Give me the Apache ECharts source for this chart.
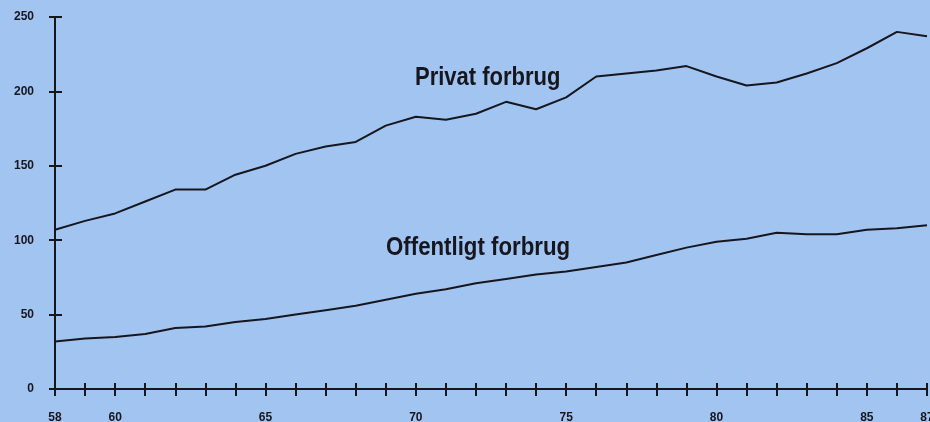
<!DOCTYPE html>
<html>
<head>
<meta charset="utf-8">
<script src="https://cdn.jsdelivr.net/npm/echarts@6/dist/echarts.min.js"></script>
<style>
  html, body { margin: 0; padding: 0; background: #a2c4f1; }
  #chart { width: 930px; height: 422px; }
</style>
</head>
<body>
<div id="chart"></div>
<script>
// years 1958 - 1987
const years = [58, 59, 60, 61, 62, 63, 64, 65, 66, 67, 68, 69, 70, 71, 72,
  73, 74, 75, 76, 77, 78, 79, 80, 81, 82, 83, 84, 85, 86, 87]
const privatForbrug = [107, 113, 118, 126, 134, 134, 144, 150, 158, 163, 166, 177, 183, 181, 185,
  193, 188, 196, 210, 212, 214, 217, 210, 204, 206, 212, 219, 229, 240, 237]
const offentligtForbrug = [32, 34, 35, 37, 41, 42, 45, 47, 50, 53, 56, 60, 64, 67, 71,
  74, 77, 79, 82, 85, 90, 95, 99, 101, 105, 104, 104, 107, 108, 110]
const xTickLabels = { 58: '58', 60: '60', 65: '65', 70: '70', 75: '75', 80: '80', 85: '85', 87: '87' }
const yTicks = [0, 50, 100, 150, 200, 250]

const ink = '#16161f'
const chart = echarts.init(document.getElementById('chart'))

const pairs = (vals) => years.map((y, i) => [y, vals[i]])

const xBase = {
  type: 'value',
  min: 58,
  max: 87,
  interval: 1,
  splitLine: { show: false }
}
const yBase = {
  type: 'value',
  min: 0,
  max: 250,
  interval: 50,
  splitLine: { show: false }
}
const labelFont = {
  color: ink,
  fontFamily: 'Liberation Sans',
  fontWeight: 'bold',
  fontSize: 12
}

chart.setOption({
  backgroundColor: '#a2c4f1',
  animation: false,
  grid: { left: 55, right: 3, top: 17, bottom: 33, outerBoundsMode: 'none', containLabel: false },
  xAxis: [{
    ...xBase,
    axisLine: { lineStyle: { color: ink, width: 2 } },
    axisTick: { length: 7, lineStyle: { color: ink, width: 2 } },
    axisLabel: {
      ...labelFont,
      margin: 23,
      formatter: (v) => xTickLabels[v] || ''
    }
  }, {
    ...xBase,
    position: 'bottom',
    axisLine: { show: false },
    axisTick: { inside: true, length: 6, lineStyle: { color: ink, width: 2 } },
    axisLabel: { show: false }
  }],
  yAxis: [{
    ...yBase,
    axisLine: { show: true, lineStyle: { color: ink, width: 2 } },
    axisTick: { show: true, length: 6, lineStyle: { color: ink, width: 2 } },
    axisLabel: {
      ...labelFont,
      margin: 21,
      formatter: (v) => yTicks.includes(v) ? String(v) : ''
    }
  }, {
    ...yBase,
    position: 'left',
    axisLine: { show: false },
    axisTick: { show: true, inside: true, length: 7, lineStyle: { color: ink, width: 2 } },
    axisLabel: { show: false }
  }],
  graphic: [{
    type: 'text',
    x: 4,
    y: -9,
    style: { text: 'Milliarder kroner', fill: ink, font: 'bold 12px "Liberation Sans"', verticalAlign: 'top' }
  }, {
    type: 'text',
    x: 415,
    y: 66,
    scaleX: 0.88,
    style: { text: 'Privat forbrug', fill: ink, font: 'bold 25px "Liberation Sans"', verticalAlign: 'top' }
  }, {
    type: 'text',
    x: 386,
    y: 236,
    scaleX: 0.89,
    style: { text: 'Offentligt forbrug', fill: ink, font: 'bold 25px "Liberation Sans"', verticalAlign: 'top' }
  }],
  series: [{
    name: 'Privat forbrug',
    type: 'line',
    symbol: 'none',
    lineStyle: { color: ink, width: 2 },
    data: pairs(privatForbrug)
  }, {
    name: 'Offentligt forbrug',
    type: 'line',
    symbol: 'none',
    lineStyle: { color: ink, width: 2 },
    data: pairs(offentligtForbrug)
  }]
})
</script>
</body>
</html>
